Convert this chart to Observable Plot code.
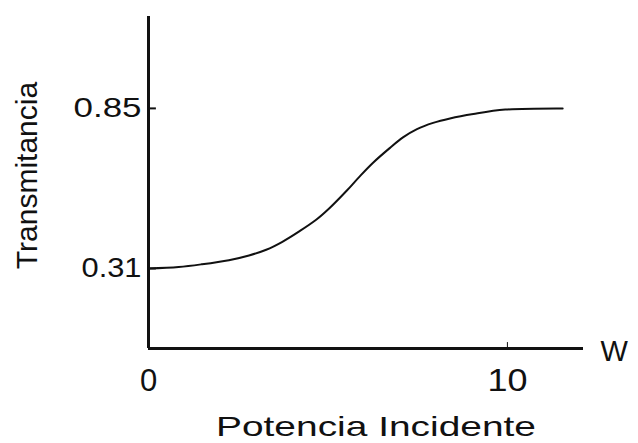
<!DOCTYPE html>
<html>
<head>
<meta charset="utf-8">
<script src="https://cdn.jsdelivr.net/npm/d3@7"></script>
<script src="https://cdn.jsdelivr.net/npm/@observablehq/plot@0.6"></script>
<style>
  html, body { margin: 0; padding: 0; background: #fff; }
  #chart svg { display: block; }
</style>
</head>
<body>
<div id="chart"></div>
<script>
// Incident power (W) and measured transmittance
const power = [0, 0.84, 1.48, 2.24, 2.80, 3.28, 3.73, 4.20, 4.68, 5.04, 5.52, 5.88, 6.25, 6.72, 7.09, 7.48, 7.93, 8.40, 9.05, 9.94, 11.54];
const transmittance = [0.31, 0.315, 0.324, 0.338, 0.354, 0.373, 0.400, 0.435, 0.475, 0.513, 0.572, 0.620, 0.666, 0.716, 0.752, 0.780, 0.801, 0.816, 0.831, 0.846, 0.85];

const yTicks = [0.31, 0.85];
const xTicks = [0, 10];
const xUnit = "W";
const xTitle = "Potencia Incidente";
const yTitle = "Transmitancia";

const xMax = 12.12;
const yMin = 0.04;
const yMax = 1.16;

const data = power.map((p, i) => ({power: p, t: transmittance[i]}));

const font = "'Liberation Sans', Arial, sans-serif";

const chart = Plot.plot({
  width: 638,
  height: 443,
  marginLeft: 148,
  marginRight: 55,
  marginTop: 16,
  marginBottom: 95,
  style: {fontFamily: font, color: "#111", background: "#fff"},
  x: {domain: [0, xMax], axis: null},
  y: {domain: [yMin, yMax], axis: null},
  marks: [
    // axis lines
    Plot.ruleX([0], {y1: yMin, y2: yMax, stroke: "#111", strokeWidth: 3}),
    Plot.ruleY([yMin], {x1: 0, x2: xMax, stroke: "#111", strokeWidth: 3}),
    // tick marks
    Plot.ruleY(yTicks, {x1: 0, x2: 0.22, stroke: "#111", strokeWidth: 2}),
    Plot.ruleX([10], {y1: yMin, y2: yMin + 0.02, stroke: "#111", strokeWidth: 1}),
    // tick labels
    Plot.text(yTicks, {x: 0, y: d => d, text: d => d.toFixed(2), textAnchor: "end", dx: -7, fontSize: 27, fill: "#111"}),
    Plot.text(xTicks, {x: d => d, y: yMin, text: d => String(d), dy: 33, fontSize: 31, fill: "#111"}),
    Plot.text([xUnit], {x: xMax, y: yMin, text: d => d, textAnchor: "start", dx: 17, dy: 3, fontSize: 29, fill: "#111"}),
    // titles
    Plot.text([xTitle], {frameAnchor: "bottom", text: d => d, textAnchor: "middle", lineAnchor: "bottom", dx: 10, dy: 87, fontSize: 28, fill: "#111"}),
    Plot.text([yTitle], {frameAnchor: "left", text: d => d, textAnchor: "middle", lineAnchor: "middle", rotate: -90, dx: -121, dy: -7, fontSize: 30, fill: "#111"}),
    // transmittance curve
    Plot.line(data, {x: "power", y: "t", curve: "catmull-rom", stroke: "#111", strokeWidth: 2})
  ]
});

// stretch the horizontal labels to the wide lettering of the figure
const widths = {"0.85": 68, "0.31": 60, "10": 40, "Potencia Incidente": 320};
d3.select(chart).selectAll("text").each(function() {
  const w = widths[this.textContent];
  if (w) {
    this.setAttribute("textLength", w);
    this.setAttribute("lengthAdjust", "spacingAndGlyphs");
  }
});

document.getElementById("chart").appendChild(chart);
</script>
</body>
</html>
